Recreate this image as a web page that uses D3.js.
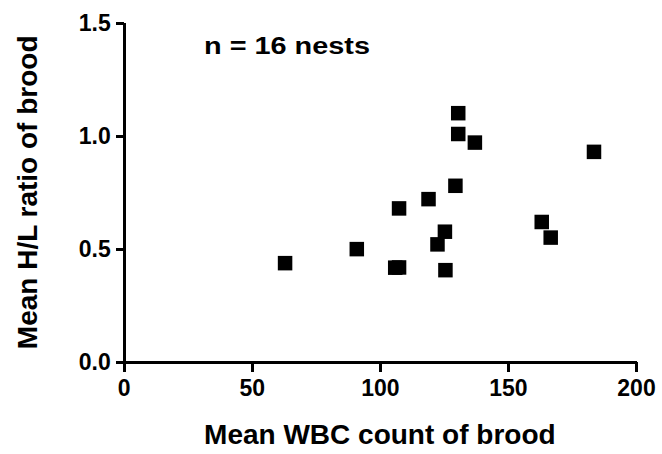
<html lang="en">
<head>
    <meta charset="UTF-8">
    <title>WBC vs H/L</title>
    <script src="https://cdn.jsdelivr.net/npm/d3@7"></script>
    <style>
        body{
            margin:0;
            background:white;
        }
        .axis path, .axis line{
            stroke:black;
            stroke-width:3px;
            shape-rendering:crispEdges;
        }
        .axis text{
            font-family:"Liberation Sans", Arial, sans-serif;
            font-weight:bold;
            font-size:23px;
            fill:black;
        }
        .title{
            font-family:"Liberation Sans", Arial, sans-serif;
            font-weight:bold;
            font-size:28px;
            fill:black;
        }
        .note{
            font-family:"Liberation Sans", Arial, sans-serif;
            font-weight:bold;
            font-size:23px;
            fill:black;
        }
    </style>
</head>
<body>
    <svg id="svg"></svg>
    <script>
        var WIDTH = 662;
        var HEIGHT = 454;

        // mean WBC count of brood (x) and mean H/L ratio (y), one per nest
        var wbc = [130.6, 130.6, 137.1, 183.6, 129.5, 119.0, 107.5, 163.2,
                   125.4, 166.7, 122.5, 91.0, 63.0, 106.0, 107.5, 125.6];
        var hl  = [1.100, 1.008, 0.970, 0.929, 0.779, 0.720, 0.679, 0.619,
                   0.576, 0.550, 0.520, 0.499, 0.437, 0.417, 0.418, 0.406];

        var xTicks = [0, 50, 100, 150, 200];
        var yTicks = [0.0, 0.5, 1.0, 1.5];
        var xLabel = "Mean WBC count of brood";
        var yLabel = "Mean H/L ratio of brood";
        var note = "n = 16 nests";

        var dataset = wbc.map(function(d, i){
            return {x: d, y: hl[i]};
        });

        var svg = d3.select("#svg")
                    .attr("width", WIDTH)
                    .attr("height", HEIGHT);

        var xScale = d3.scaleLinear()
                       .domain([0, 200])
                       .range([123.7, 636]);
        var yScale = d3.scaleLinear()
                       .domain([0, 1.5])
                       .range([362, 22.7]);

        var xAxis = d3.axisBottom(xScale)
                      .tickValues(xTicks)
                      .tickSizeOuter(0)
                      .tickSizeInner(10)
                      .tickPadding(8)
                      .tickFormat(d3.format("d"));

        var yAxis = d3.axisLeft(yScale)
                      .tickValues(yTicks)
                      .tickSizeOuter(0)
                      .tickSizeInner(8)
                      .tickPadding(5)
                      .tickFormat(d3.format(".1f"));

        svg.append("g")
           .attr("class", "x axis")
           .attr("transform", "translate(0," + yScale(0) + ")")
           .call(xAxis);

        svg.append("g")
           .attr("class", "y axis")
           .attr("transform", "translate(" + xScale(0) + ",0)")
           .call(yAxis);

        // points
        var size = 14.5;
        svg.append("g")
           .selectAll("rect")
           .data(dataset)
           .enter()
           .append("rect")
           .attr("x", function(d){ return xScale(d.x) - size/2; })
           .attr("y", function(d){ return yScale(d.y) - size/2; })
           .attr("width", size)
           .attr("height", size)
           .attr("fill", "black");

        svg.append("text")
           .attr("class", "title")
           .attr("x", (xScale(0) + xScale(200)) / 2)
           .attr("y", 444)
           .attr("text-anchor", "middle")
           .text(xLabel);

        svg.append("text")
           .attr("class", "title")
           .attr("transform", "translate(37," + (yScale(0) + yScale(1.5)) / 2 + ") rotate(-90)")
           .attr("text-anchor", "middle")
           .text(yLabel);

        svg.append("text")
           .attr("class", "note")
           .attr("x", 204)
           .attr("y", 54)
           .attr("textLength", 166)
           .attr("lengthAdjust", "spacingAndGlyphs")
           .text(note);
    </script>
</body>
</html>
